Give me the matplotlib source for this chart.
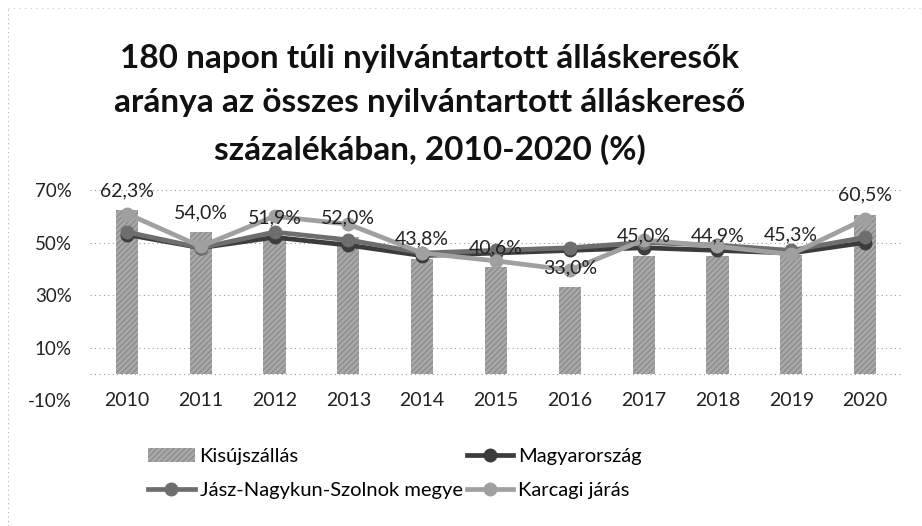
import matplotlib
matplotlib.use("Agg")
import matplotlib.pyplot as plt
from matplotlib.lines import Line2D

plt.rcParams['font.family'] = ['Lato', 'DejaVu Sans']

years = ['2010', '2011', '2012', '2013', '2014', '2015', '2016', '2017', '2018', '2019', '2020']
kisujszallas = [62.3, 54.0, 51.9, 52.0, 43.8, 40.6, 33.0, 45.0, 44.9, 45.3, 60.5]
magyarorszag = [53.0, 48.0, 52.0, 49.0, 45.0, 46.0, 47.0, 48.0, 47.0, 46.0, 50.0]
jnsz_megye = [54.0, 48.0, 54.0, 51.0, 46.0, 47.0, 48.0, 50.0, 49.0, 47.0, 52.0]
karcagi_jaras = [61.0, 48.5, 60.0, 57.0, 46.0, 43.0, 39.5, 51.0, 48.5, 45.5, 59.0]
y_ticks = [-10, 10, 30, 50, 70]

title = ("180 napon túli nyilvántartott álláskeresők\n"
         "aránya az összes nyilvántartott álláskereső\n"
         "százalékában, 2010-2020 (%)")

fig = plt.figure(figsize=(9.22, 5.26), dpi=100)
ax = fig.add_axes([0.0976, 0.2395, 0.8807, 0.3992])

x = list(range(len(years)))

bar_color = '#a9a9a9'
bars = ax.bar(x, kisujszallas, width=0.3, color=bar_color, hatch='//////',
              linewidth=0.0, zorder=2)
for b in bars:
    b.set_edgecolor('#8c8c8c')

line_styles = [
    (magyarorszag, '#3c3c3c', 'Magyarország'),
    (jnsz_megye, '#6e6e6e', 'Jász-Nagykun-Szolnok megye'),
    (karcagi_jaras, '#a0a0a0', 'Karcagi járás'),
]
line_handles = []
for vals, col, name in line_styles:
    h, = ax.plot(x, vals, color=col, lw=3.4, marker='o', markersize=9,
                 markerfacecolor=col, markeredgecolor=col, zorder=3, label=name)
    line_handles.append(h)

for xi, v in zip(x, kisujszallas):
    ax.annotate(f"{v:.1f}%".replace('.', ','), (xi, v), xytext=(0, 8),
                textcoords='offset points', ha='center', va='bottom',
                fontsize=14, color='#222222', zorder=5)

ax.set_xlim(-0.5, len(years) - 0.5)
ax.set_ylim(-10, 70)

# dotted gridlines, including the zero baseline
for yv in y_ticks + [0]:
    ax.axhline(yv, color='#9a9a9a', lw=0.8, ls=(0, (1, 3)), zorder=1)

for s in ax.spines.values():
    s.set_visible(False)
ax.set_xticks([])
ax.set_yticks(y_ticks)
ax.set_yticklabels([f"{t}%" for t in y_ticks], fontsize=13.5, color='#222222')
ax.tick_params(axis='y', length=0, pad=13)

# year labels sit on the bottom gridline
for xi, yr in zip(x, years):
    ax.text(xi, -10, yr, ha='center', va='center', fontsize=14, color='#222222',
            bbox=dict(boxstyle='square,pad=0.15', fc='white', ec='none'), zorder=4)

fig.text(0.466, 0.917, title, ha='center', va='top', fontsize=24,
         fontweight='bold', linespacing=1.65, color='#111111')

bar_handle = plt.Rectangle((0, 0), 1, 1, facecolor=bar_color, edgecolor='#8c8c8c',
                           hatch='//////', linewidth=0)
handles = [bar_handle, line_handles[1], line_handles[0], line_handles[2]]
labels = ['Kisújszállás', 'Jász-Nagykun-Szolnok megye', 'Magyarország', 'Karcagi járás']
fig.legend(handles, labels, ncol=2, loc='upper left', bbox_to_anchor=(0.152, 0.163),
           frameon=False, fontsize=14.5, handlelength=2.3, handletextpad=0.25,
           columnspacing=0.2, labelspacing=0.8, borderaxespad=0)

# faint dotted frame of the chart area
fig.add_artist(Line2D([0.009, 0.009], [0.0, 0.985], transform=fig.transFigure,
                      color='#b0b0b0', lw=0.8, ls=(0, (1, 3))))
fig.add_artist(Line2D([0.009, 1.0], [0.985, 0.985], transform=fig.transFigure,
                      color='#c8c8c8', lw=0.8, ls=(0, (1, 4))))

fig.savefig('out.png', dpi=100)
